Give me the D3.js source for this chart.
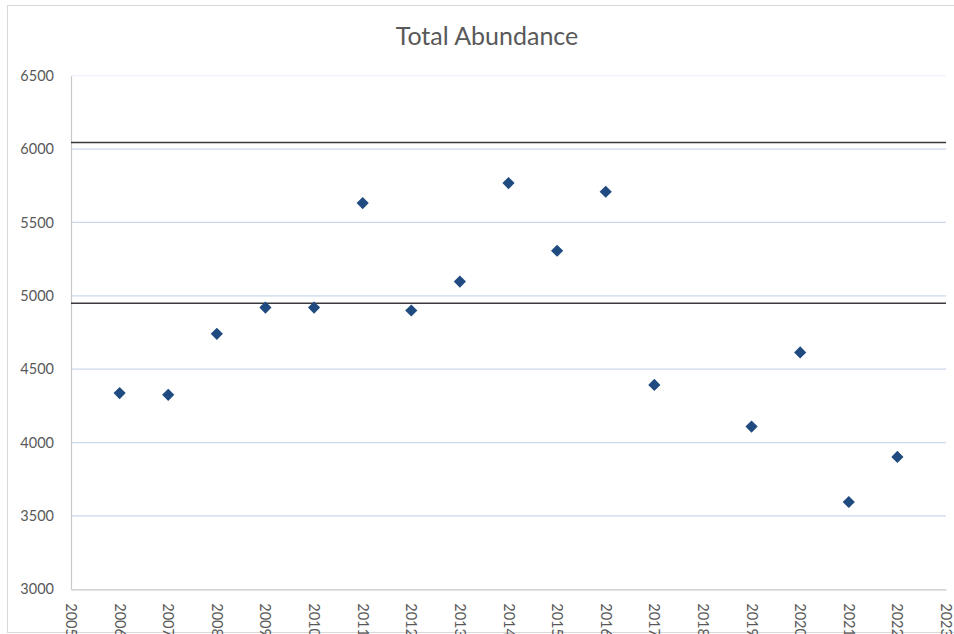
<!DOCTYPE html>
<html>
<head>
<meta charset="utf-8">
<script src="https://cdn.jsdelivr.net/npm/d3@7"></script>
<style>
  body { margin: 0; background: #fff; }
  svg text { font-family: Lato, "Open Sans", sans-serif; fill: #595959; }
</style>
</head>
<body>
<div id="chart"></div>
<script>
// yearly totals, 2018 has no survey
var years = [2006, 2007, 2008, 2009, 2010, 2011, 2012, 2013, 2014, 2015, 2016, 2017, 2018, 2019, 2020, 2021, 2022];
var abundance = [4337, 4325, 4741, 4920, 4920, 5632, 4900, 5097, 5768, 5307, 5709, 4393, null, 4109, 4614, 3595, 3902];
var limits = [6045, 4950];
var yTicks = [3000, 3500, 4000, 4500, 5000, 5500, 6000, 6500];
var xTicks = d3.range(2005, 2024);

var width = 954, height = 634;
var plotLeft = 71, plotRight = 946, plotTop = 75.7, plotBottom = 589.3;

var svg = d3.select("#chart").append("svg")
    .attr("width", width)
    .attr("height", height);

// chart border
svg.append("rect")
    .attr("x", 7.5).attr("y", 5.5)
    .attr("width", 960).attr("height", 627)
    .attr("fill", "none")
    .attr("stroke", "#d9d9d9");

var x = d3.scaleLinear().domain([2005, 2023]).range([plotLeft, plotRight]);
var y = d3.scaleLinear().domain([3000, 6500]).range([plotBottom, plotTop]);

svg.append("text")
    .attr("x", 487).attr("y", 45)
    .attr("text-anchor", "middle")
    .style("font-size", "25px")
    .text("Total Abundance");

// gridlines
svg.append("g")
    .selectAll("line")
    .data(yTicks.filter(function(d) { return d > 3000; }))
    .enter().append("line")
    .attr("x1", plotLeft).attr("x2", plotRight)
    .attr("y1", function(d) { return y(d); })
    .attr("y2", function(d) { return y(d); })
    .attr("stroke", function(d) { return d == 6500 ? "#eef2f9" : "#cad7ec"; })
    .attr("stroke-width", 1.2);

// axes
var yAxis = svg.append("g")
    .attr("transform", "translate(" + plotLeft + ",0)")
    .call(d3.axisLeft(y).tickValues(yTicks).tickSize(0).tickPadding(17).tickFormat(d3.format("d")));
yAxis.select(".domain").attr("stroke", "#c8c8c8").attr("stroke-width", 1.2);
yAxis.selectAll("text").style("font-size", "14.5px").attr("fill", "#595959");

var xAxis = svg.append("g")
    .attr("transform", "translate(0," + plotBottom + ")")
    .call(d3.axisBottom(x).tickValues(xTicks).tickSize(0).tickFormat(d3.format("d")));
xAxis.select(".domain").attr("stroke", "#c8c8c8").attr("stroke-width", 1.2);
xAxis.selectAll("text")
    .style("font-size", "14.5px")
    .attr("fill", "#595959")
    .attr("text-anchor", "start")
    .attr("dy", null)
    .attr("transform", "rotate(90)")
    .attr("x", 14)
    .attr("y", 0)
    .attr("dominant-baseline", "central");

// reference lines
svg.append("g")
    .selectAll("line")
    .data(limits)
    .enter().append("line")
    .attr("x1", plotLeft).attr("x2", plotRight)
    .attr("y1", function(d) { return y(d); })
    .attr("y2", function(d) { return y(d); })
    .attr("stroke", "#3a3a3a")
    .attr("stroke-width", 1.5);

// points
var pts = years.map(function(d, i) { return { year: d, value: abundance[i] }; })
    .filter(function(d) { return d.value != null; });

svg.append("g")
    .selectAll("path")
    .data(pts)
    .enter().append("path")
    .attr("d", d3.symbol().type(d3.symbolSquare).size(74))
    .attr("transform", function(d) {
        return "translate(" + x(d.year) + "," + y(d.value) + ") rotate(45)";
    })
    .attr("fill", "#1f4b80");
</script>
</body>
</html>
